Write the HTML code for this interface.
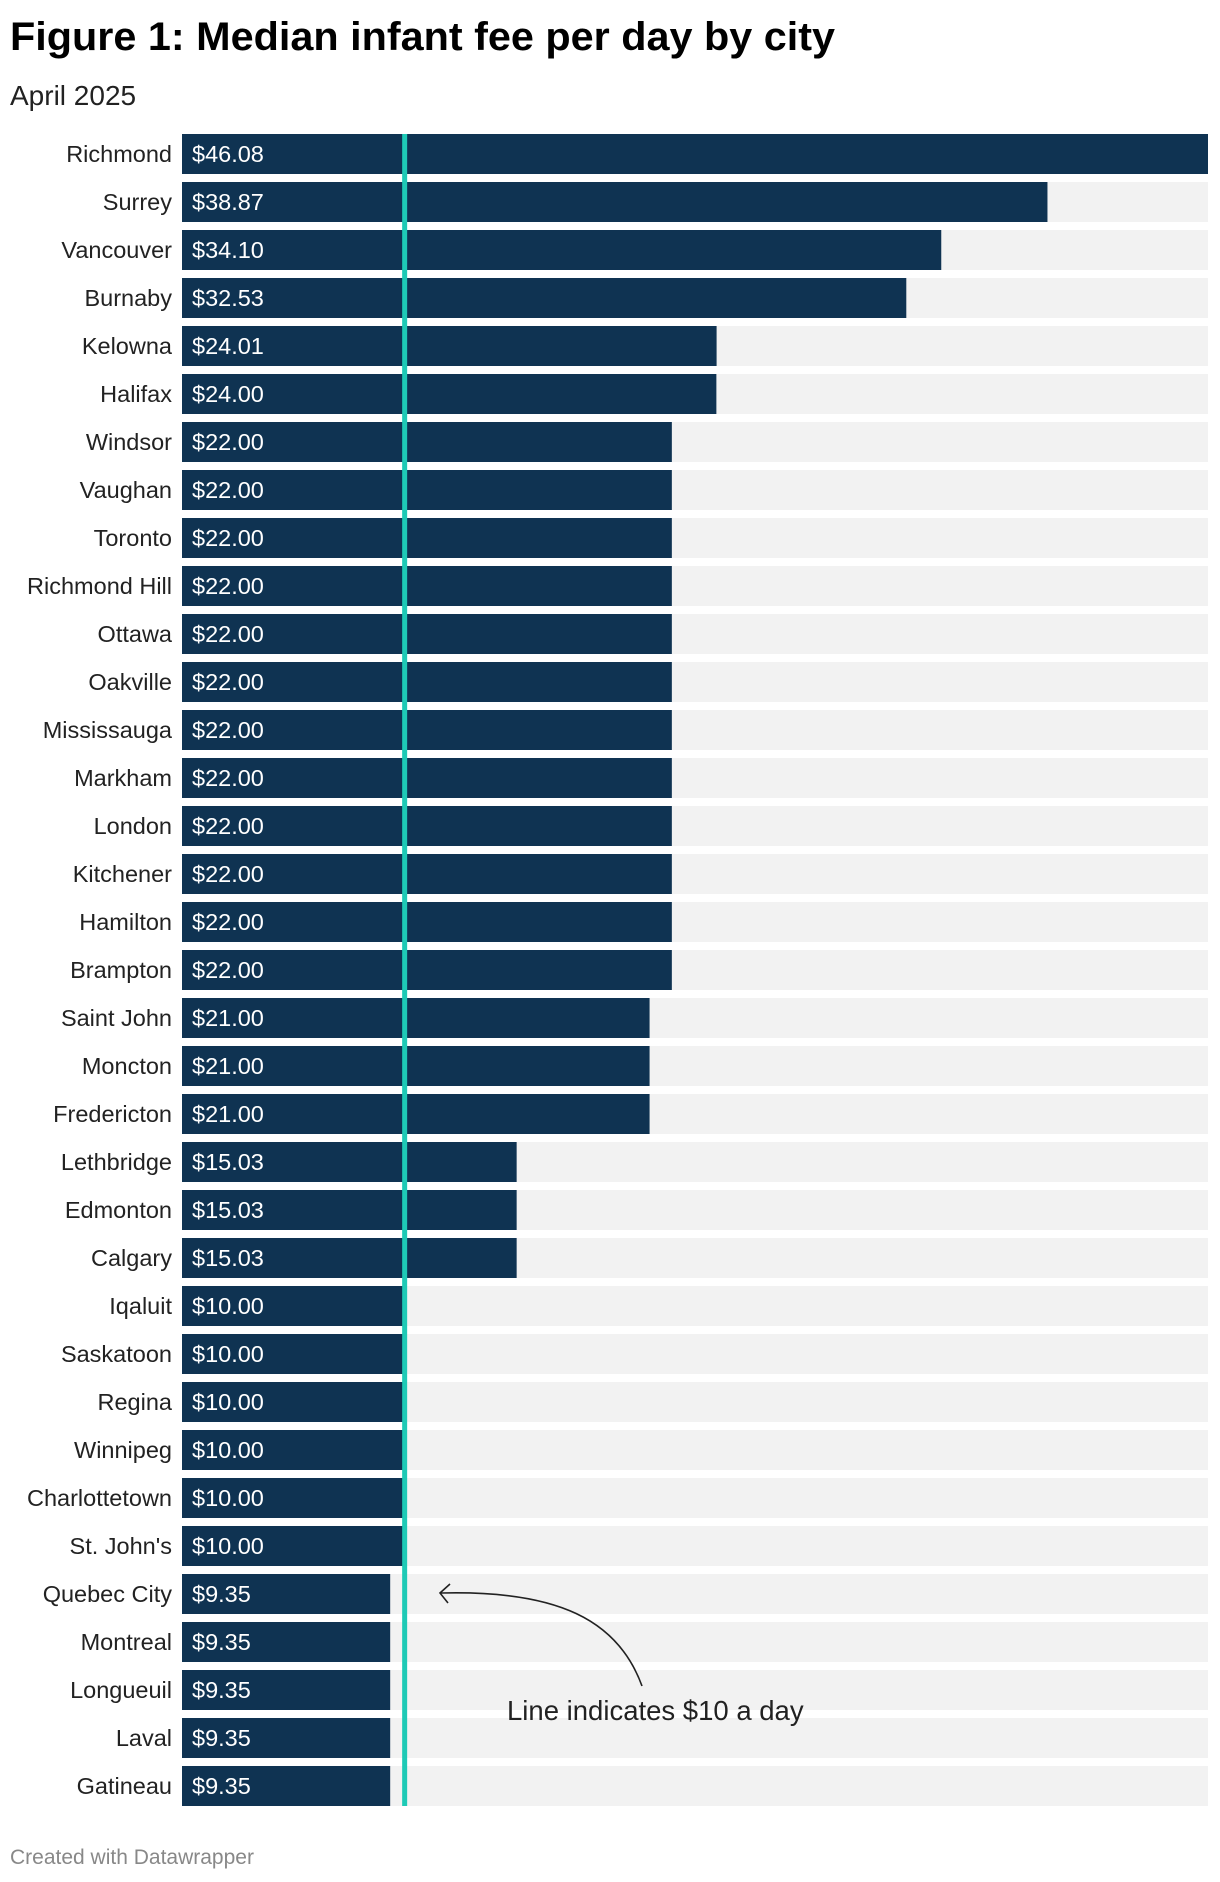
<!DOCTYPE html>
<html><head><meta charset="utf-8">
<style>
body{margin:0;background:#fff;width:1220px;height:1882px;overflow:hidden;font-family:"Liberation Sans",sans-serif;}
svg{display:block}
</style></head>
<body>
<svg id="chart" width="1220" height="1882" xmlns="http://www.w3.org/2000/svg">
<text x="10" y="50" font-size="40" font-weight="bold" fill="#000" font-family="Liberation Sans, sans-serif" textLength="825" lengthAdjust="spacingAndGlyphs">Figure 1: Median infant fee per day by city</text>
<text x="10" y="105" font-size="28" fill="#222" font-family="Liberation Sans, sans-serif">April 2025</text>
<g id="bars"></g>
<rect id="refline" y="134" width="5" height="1672" fill="#1ecab6"/>
<path d="M642,1686 C618,1620 558,1590 441,1593" fill="none" stroke="#222" stroke-width="1.6"/>
<path d="M450,1584 L440,1593 L448,1603" fill="none" stroke="#222" stroke-width="1.6"/>
<text x="507" y="1720" font-size="27.5" fill="#222" font-family="Liberation Sans, sans-serif">Line indicates $10 a day</text>
<text x="10" y="1864" font-size="21" fill="#888" font-family="Liberation Sans, sans-serif">Created with Datawrapper</text>
</svg>
<script>
const cities=["Richmond","Surrey","Vancouver","Burnaby","Kelowna","Halifax","Windsor","Vaughan","Toronto","Richmond Hill","Ottawa","Oakville","Mississauga","Markham","London","Kitchener","Hamilton","Brampton","Saint John","Moncton","Fredericton","Lethbridge","Edmonton","Calgary","Iqaluit","Saskatoon","Regina","Winnipeg","Charlottetown","St. John's","Quebec City","Montreal","Longueuil","Laval","Gatineau"];
const fees=[46.08,38.87,34.10,32.53,24.01,24.00,22,22,22,22,22,22,22,22,22,22,22,22,21,21,21,15.03,15.03,15.03,10,10,10,10,10,10,9.35,9.35,9.35,9.35,9.35];
const refValue=10;
const x0=182,x1=1208,maxV=46.08,top0=134,pitch=48,bh=40;
const xs=v=>x0+(v/maxV)*(x1-x0);
const ys=i=>top0+i*pitch;
const NS="http://www.w3.org/2000/svg";
const g=document.getElementById('bars');
cities.forEach((c,i)=>{
  const y=ys(i);
  const bg=document.createElementNS(NS,'rect');
  
  
  bg.setAttribute('x',x0);bg.setAttribute('y',y);bg.setAttribute('width',x1-x0);bg.setAttribute('height',bh);bg.setAttribute('fill','#f2f2f2');
  g.appendChild(bg);
  const r=document.createElementNS(NS,'rect');
  
  
  r.setAttribute('x',x0);r.setAttribute('y',y);r.setAttribute('width',xs(fees[i])-x0);r.setAttribute('height',bh);r.setAttribute('fill','#0f3352');
  g.appendChild(r);
  const l=document.createElementNS(NS,'text');
  
  
  l.setAttribute('x',172);l.setAttribute('y',y+28);l.setAttribute('text-anchor','end');l.setAttribute('font-size','23.5');l.setAttribute('fill','#222');
  l.textContent=c;g.appendChild(l);
  const v=document.createElementNS(NS,'text');
  
  
  v.setAttribute('x',192);v.setAttribute('y',y+28);v.setAttribute('font-size','23.5');v.setAttribute('fill','#fff');
  v.textContent='$'+fees[i].toFixed(2);g.appendChild(v);
});
document.getElementById('refline').setAttribute('x',xs(refValue)-2.5);
</script>
</body></html>
